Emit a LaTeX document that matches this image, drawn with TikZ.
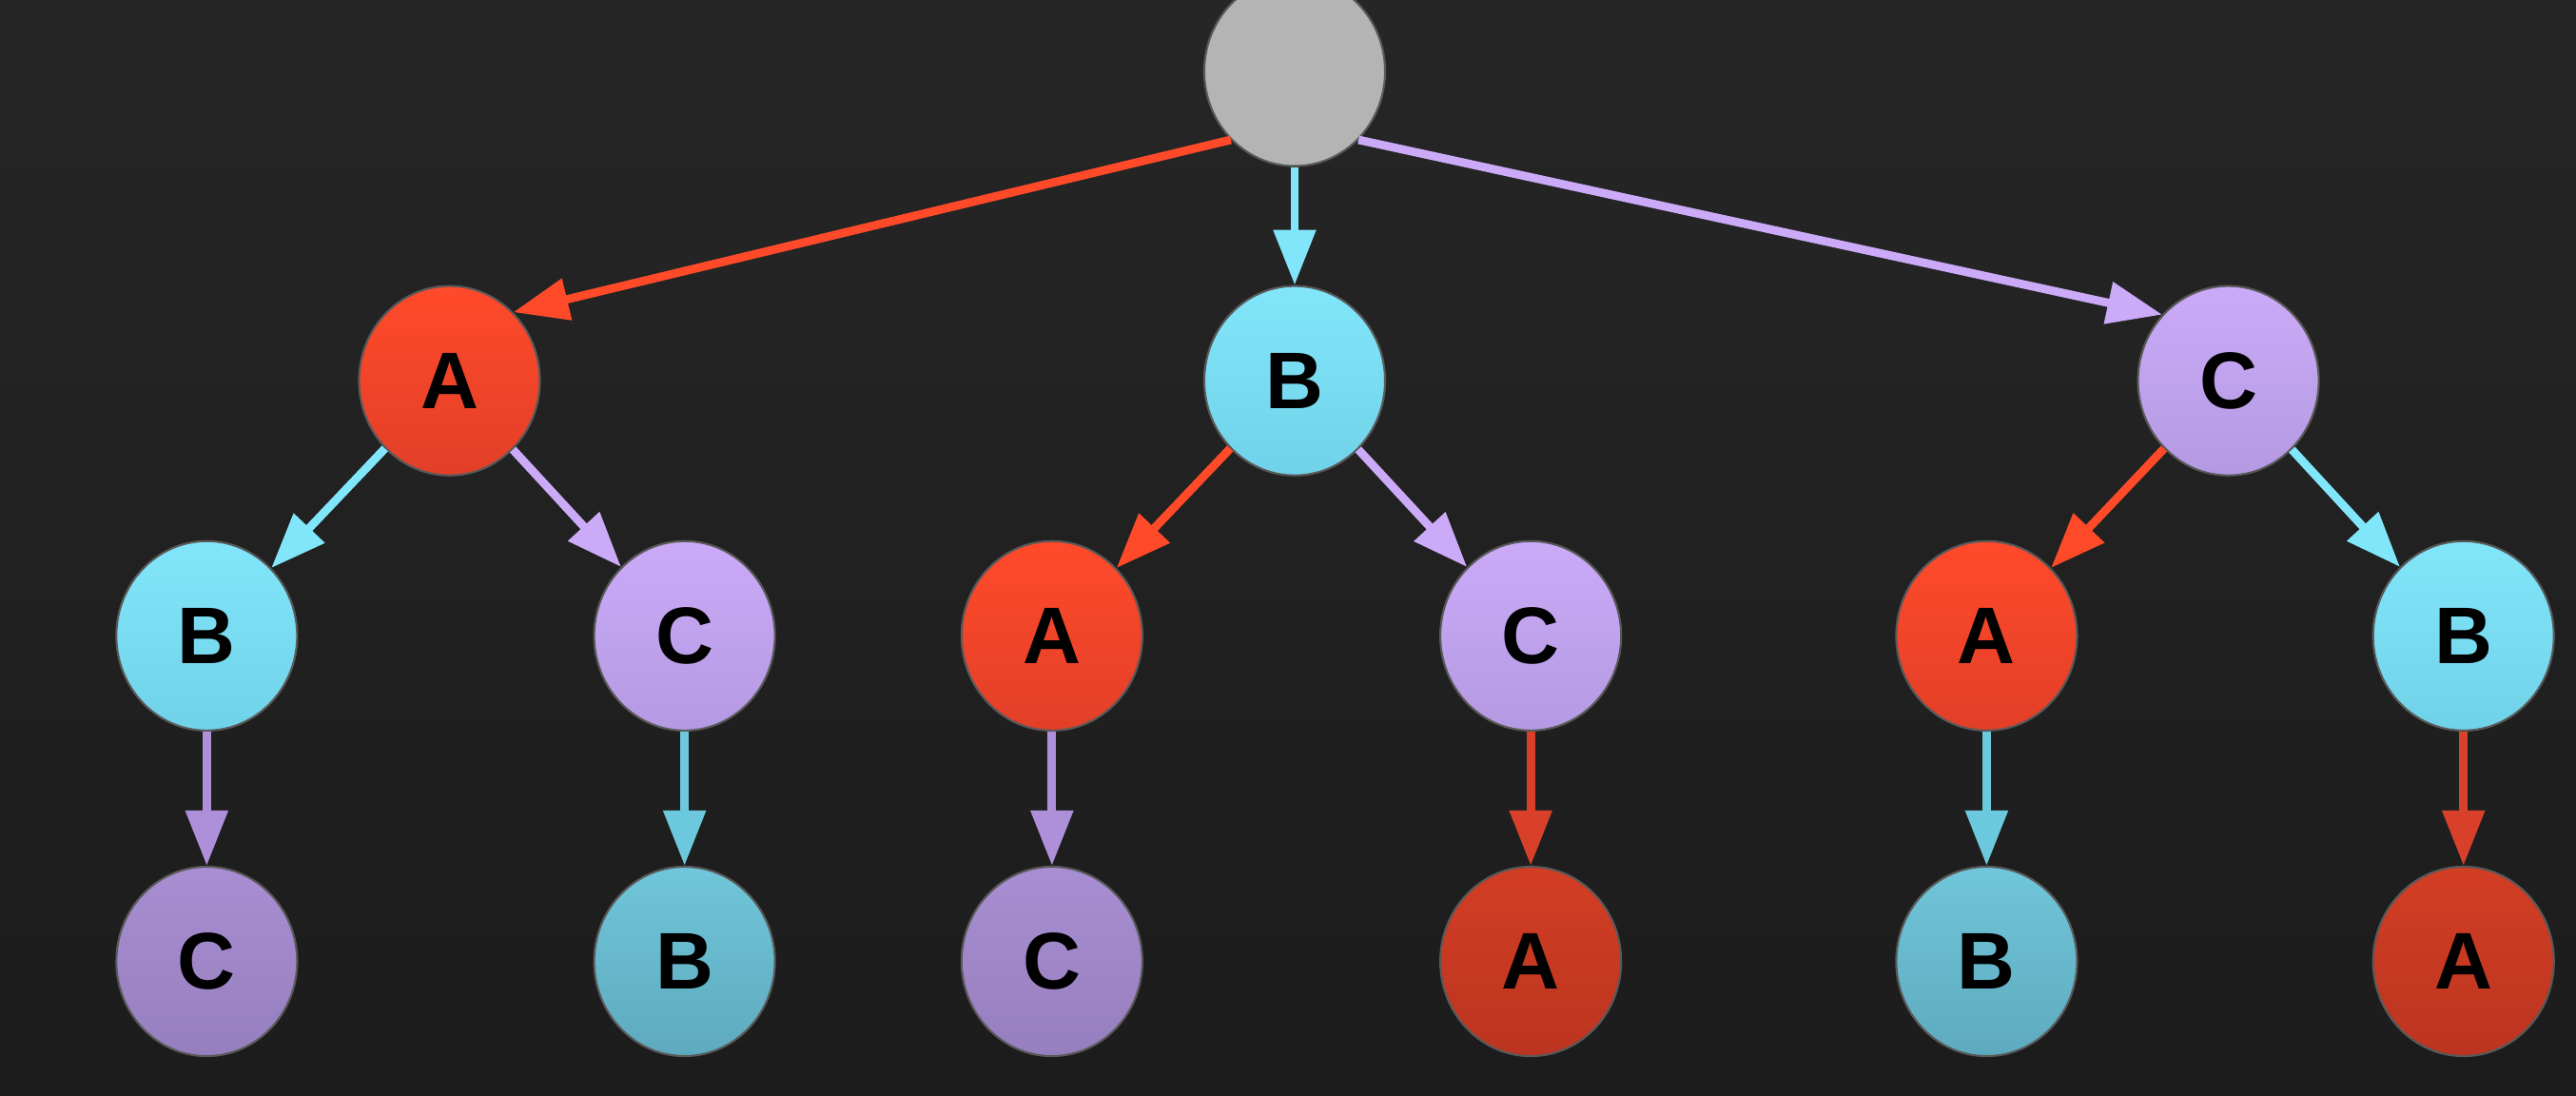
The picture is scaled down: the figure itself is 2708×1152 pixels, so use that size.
\documentclass[tikz,border=0pt]{standalone}
\usepackage{fontspec}
\setmainfont{Liberation Sans}
\usepackage{xcolor}
\usepackage{tikz}
\usetikzlibrary{shapes.geometric,arrows.meta,positioning}
\definecolor{colorBgT}{RGB}{38,38,38}
\definecolor{colorBgB}{RGB}{28,28,28}
\definecolor{colorRoot}{RGB}{180,180,180}
\definecolor{colorRT}{RGB}{255,74,42}
\definecolor{colorRB}{RGB}{226,63,40}
\definecolor{colorRdT}{RGB}{210,62,36}
\definecolor{colorRdB}{RGB}{188,52,32}
\definecolor{colorBT}{RGB}{130,230,251}
\definecolor{colorBB}{RGB}{112,210,232}
\definecolor{colorBdT}{RGB}{112,198,218}
\definecolor{colorBdB}{RGB}{94,170,190}
\definecolor{colorCT}{RGB}{203,170,248}
\definecolor{colorCB}{RGB}{180,154,226}
\definecolor{colorCdT}{RGB}{168,142,210}
\definecolor{colorCdB}{RGB}{150,127,190}
\definecolor{colorRe}{RGB}{216,64,42}
\definecolor{colorBe}{RGB}{108,200,220}
\definecolor{colorCe}{RGB}{174,144,218}
\tikzstyle{tnode}=[ellipse, minimum width=1.9cm, minimum height=1.99cm, inner sep=0pt, draw=black!65, line width=0.6pt, font=\fontsize{24}{26}\selectfont\bfseries]
\tikzstyle{nroot}=[tnode, fill=colorRoot]
\tikzstyle{nA}=[tnode, top color=colorRT, bottom color=colorRB]
\tikzstyle{nB}=[tnode, top color=colorBT, bottom color=colorBB]
\tikzstyle{nC}=[tnode, top color=colorCT, bottom color=colorCB]
\tikzstyle{nAd}=[tnode, top color=colorRdT, bottom color=colorRdB]
\tikzstyle{nBd}=[tnode, top color=colorBdT, bottom color=colorBdB]
\tikzstyle{nCd}=[tnode, top color=colorCdT, bottom color=colorCdB]
\tikzstyle{edge}=[line width=2.5pt, -{Triangle[length=5.8mm,width=4.3mm]}]
\tikzstyle{eA}=[edge, color=colorRT]
\tikzstyle{eB}=[edge, color=colorBT]
\tikzstyle{eC}=[edge, color=colorCT]
\tikzstyle{eAd}=[edge, color=colorRe]
\tikzstyle{eBd}=[edge, color=colorBe]
\tikzstyle{eCd}=[edge, color=colorCe]

\begin{document}
\begin{tikzpicture}[x=0.01cm,y=0.01cm,on grid]

\fill[top color=colorBgT, bottom color=colorBgB] (0,0) rectangle (2708,1152);
\useasboundingbox (0,0) rectangle (2708,1152);

% root and first choice
\node (root) [nroot] at (1361,1077) {};
\node (a) [nA,below left=3.25cm and 8.88cm of root] {A};
\node (b) [nB,below=3.25cm of root] {B};
\node (c) [nC,below right=3.25cm and 9.81cm of root] {C};

% second choice
\node (ab) [nB,below left=2.68cm and 2.55cm of a] {B};
\node (ac) [nC,below right=2.68cm and 2.47cm of a] {C};
\node (ba) [nA,below left=2.68cm and 2.55cm of b] {A};
\node (bc) [nC,below right=2.68cm and 2.48cm of b] {C};
\node (ca) [nA,below left=2.68cm and 2.54cm of c] {A};
\node (cb) [nB,below right=2.68cm and 2.47cm of c] {B};

% last choice
\node (abc) [nCd,below=3.42cm of ab] {C};
\node (acb) [nBd,below=3.42cm of ac] {B};
\node (bac) [nCd,below=3.42cm of ba] {C};
\node (bca) [nAd,below=3.42cm of bc] {A};
\node (cab) [nBd,below=3.42cm of ca] {B};
\node (cba) [nAd,below=3.42cm of cb] {A};

\draw [eA] (root.227) -- (a.47);
\draw [eB] (root) -- (b);
\draw [eC] (root.313) -- (c.135);

\draw [eB] (a) -- (ab);
\draw [eC] (a) -- (ac);
\draw [eA] (b) -- (ba);
\draw [eC] (b) -- (bc);
\draw [eA] (c) -- (ca);
\draw [eB] (c) -- (cb);

\draw [eCd] (ab) -- (abc);
\draw [eBd] (ac) -- (acb);
\draw [eCd] (ba) -- (bac);
\draw [eAd] (bc) -- (bca);
\draw [eBd] (ca) -- (cab);
\draw [eAd] (cb) -- (cba);

\end{tikzpicture}
\end{document}
